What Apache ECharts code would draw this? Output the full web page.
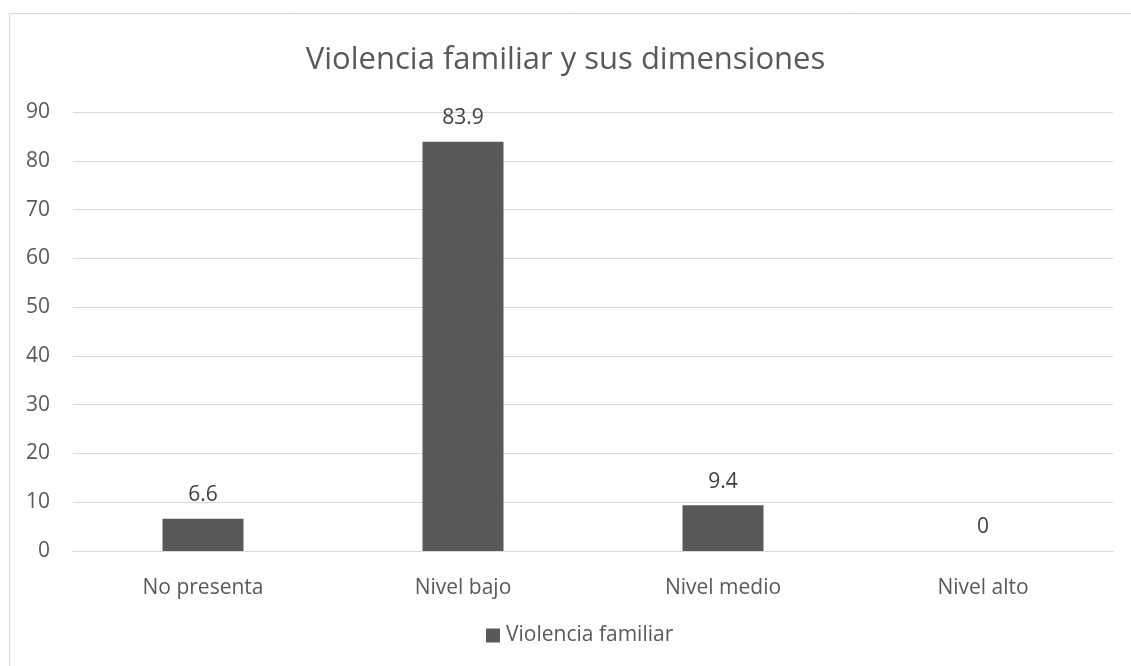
<!DOCTYPE html>
<html><head><meta charset="utf-8">
<script src="https://cdn.jsdelivr.net/npm/echarts@6/dist/echarts.min.js"></script>
<style>html,body{margin:0;padding:0;background:#fff}#c{width:1131px;height:666px}</style>
</head><body><div id="c"></div>
<script>
const categories = ["No presenta", "Nivel bajo", "Nivel medio", "Nivel alto"];
const values = [6.6, 83.9, 9.4, 0];
const seriesName = "Violencia familiar";
const titleText = "Violencia familiar y sus dimensiones";

const chart = echarts.init(document.getElementById('c'), null, {renderer: 'canvas'});
const font = "Open Sans, Noto Sans, sans-serif";
chart.setOption({
  animation: false,
  textStyle: {fontFamily: font},
  graphic: [{type: 'rect', shape: {x: 9.5, y: 13.5, width: 1140, height: 670}, style: {fill: 'none', stroke: '#d9d9d9', lineWidth: 1}, silent: true}],
  title: {text: titleText, left: 'center', top: 40, textStyle: {fontSize: 31, fontWeight: 'normal', color: '#595959', fontFamily: font}},
  legend: {bottom: 15, left: 481, itemWidth: 14, itemHeight: 14, itemGap: 10, icon: 'rect', textStyle: {fontSize: 21, color: '#595959', fontFamily: font, padding: [0,0,0,1]}, data: [seriesName]},
  grid: {left: 73, right: 18, top: 112, bottom: 115, containLabel: false},
  xAxis: {type: 'category', data: categories, axisTick: {show: false}, axisLine: {lineStyle: {color: '#d9d9d9'}}, axisLabel: {fontSize: 21, color: '#595959', margin: 27, fontFamily: font}},
  yAxis: {type: 'value', min: 0, max: 90, interval: 10, axisLine: {show: false}, axisTick: {show: false}, splitLine: {lineStyle: {color: '#d9d9d9'}}, axisLabel: {fontSize: 21, color: '#595959', margin: 23, fontFamily: font}},
  series: [{name: seriesName, type: 'bar', data: values, barWidth: 81, itemStyle: {color: '#595959'}, label: {show: true, position: 'top', distance: 13, fontSize: 21, color: '#404040', fontFamily: font}}]
});
</script></body></html>
